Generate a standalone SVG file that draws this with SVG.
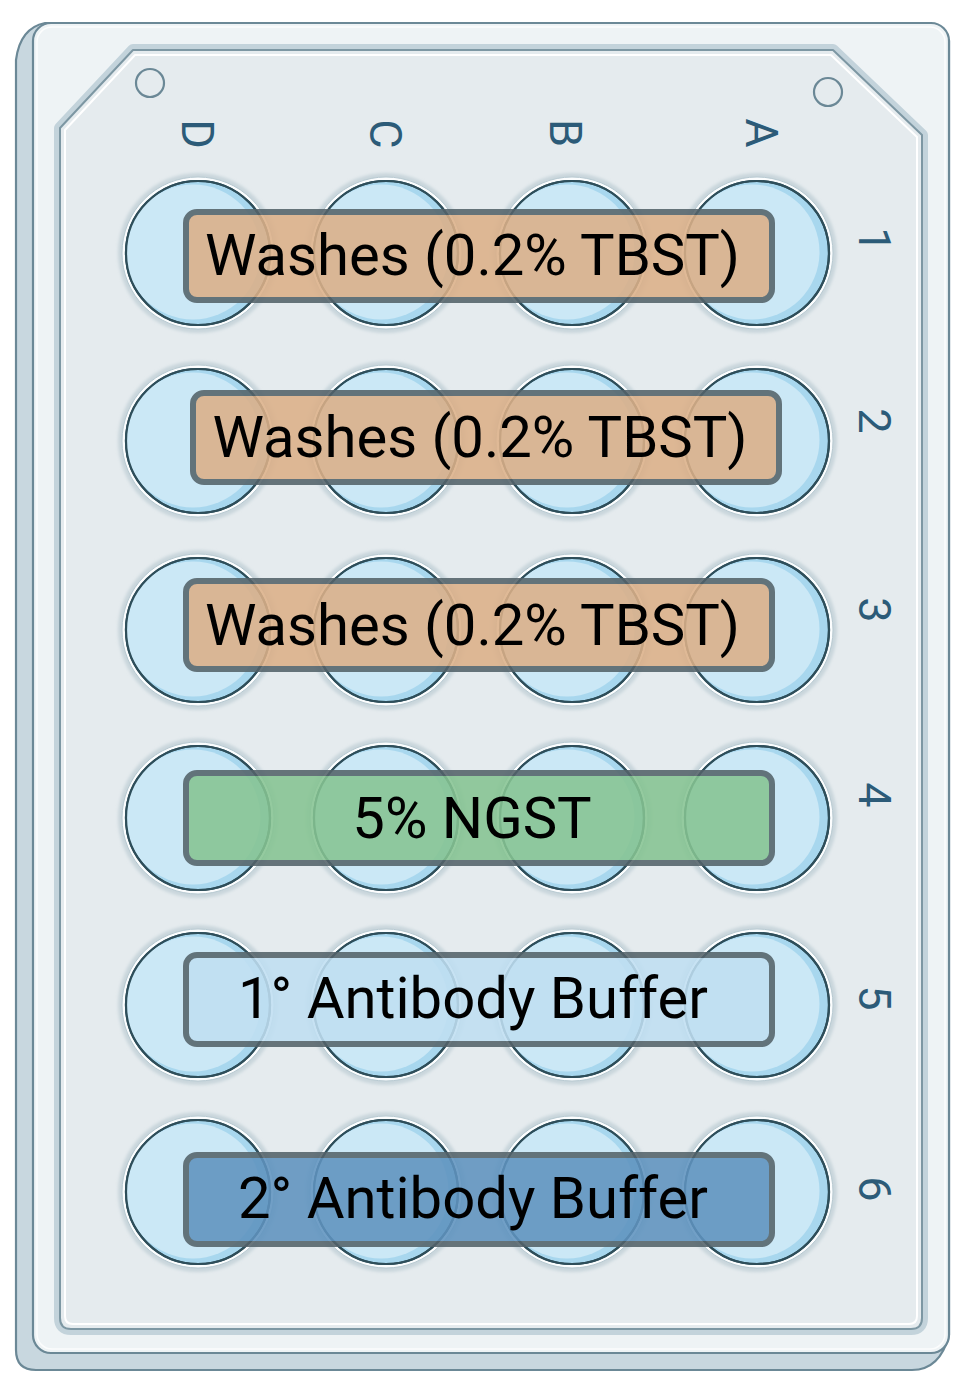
<svg xmlns="http://www.w3.org/2000/svg" xmlns:xlink="http://www.w3.org/1999/xlink" width="964" height="1379" viewBox="0 0 964 1379">
<style>
.edge{stroke:#6b8896;stroke-width:2.2}
.axis{font-family:Roboto,"Liberation Sans",sans-serif;font-size:45px;fill:#2c5b78;text-anchor:middle}
.lbl{font-family:Roboto,"Liberation Sans",sans-serif;font-size:58px;fill:#000;text-anchor:middle}
.box{stroke:#54636a;stroke-width:6;opacity:0.88}
.hole{fill:none;stroke:#6b8896;stroke-width:2.2}
</style>
<defs>
<filter id="soft" x="-20%" y="-20%" width="140%" height="140%"><feGaussianBlur stdDeviation="1.6"/></filter>
<g id="well">
<circle r="80" fill="#c9d6dc" filter="url(#soft)"/>
<circle r="76" fill="#fbfdfe" stroke="#b7c9d1" stroke-width="1"/>
<circle r="72" fill="#a8d7ee" stroke="#2e4e5a" stroke-width="2.2"/>
<circle cx="-5" cy="-1" r="67.5" fill="#cbe8f6"/>
<circle r="72" fill="none" stroke="#2e4e5a" stroke-width="2.2"/>
</g>
</defs>
<rect width="964" height="1379" fill="#ffffff"/>
<g id="plate">
<path d="M45,23 Q20,28 16,60 L16,1350 Q16,1370 36,1370 L912,1370 Q940,1370 949,1335 L949,40 Z" fill="#c8d7df" class="edge" stroke-linejoin="round"/>
<rect x="33" y="23" width="916" height="1330" rx="18" fill="#eef3f5" class="edge"/>
<rect x="37" y="27" width="908" height="1322" rx="15" fill="none" stroke="#ffffff" stroke-width="1.5" opacity="0.8"/>
<path d="M60,128 L133,50 L833,50 L922,135 L922,1318 Q922,1329 911,1329 L71,1329 Q60,1329 60,1318 Z" fill="none" stroke="#c3d3db" stroke-width="12" stroke-linejoin="round"/>
<path d="M60,128 L133,50 L833,50 L922,135 L922,1318 Q922,1329 911,1329 L71,1329 Q60,1329 60,1318 Z" fill="#e5ebee" stroke="#7d97a3" stroke-width="2" stroke-linejoin="round"/>
<path d="M65,130 L135,55 L831,55 L917,137 L917,1316 Q917,1324 909,1324 L73,1324 Q65,1324 65,1316 Z" fill="none" stroke="#ffffff" stroke-width="2" stroke-linejoin="round"/>
<circle class="hole" cx="150" cy="83" r="14"/>
<circle class="hole" cx="828" cy="92" r="14"/>
</g>
<g id="axis-labels">
<text class="axis" transform="translate(182,134) rotate(90)">D</text>
<text class="axis" transform="translate(370,134) rotate(90)">C</text>
<text class="axis" transform="translate(550,133) rotate(90)">B</text>
<text class="axis" transform="translate(746,133) rotate(90)">A</text>
<text class="axis" transform="translate(859,240) rotate(90)">1</text>
<text class="axis" transform="translate(859,421) rotate(90)">2</text>
<text class="axis" transform="translate(859,610) rotate(90)">3</text>
<text class="axis" transform="translate(859,795) rotate(90)">4</text>
<text class="axis" transform="translate(859,998) rotate(90)">5</text>
<text class="axis" transform="translate(859,1189) rotate(90)">6</text>
</g>
<g id="wells">
<g id="well-D1"><use xlink:href="#well" x="198" y="253"/></g>
<g id="well-C1"><use xlink:href="#well" x="386" y="253"/></g>
<g id="well-B1"><use xlink:href="#well" x="572" y="253"/></g>
<g id="well-A1"><use xlink:href="#well" x="757" y="253"/></g>
<g id="well-D2"><use xlink:href="#well" x="198" y="441"/></g>
<g id="well-C2"><use xlink:href="#well" x="386" y="441"/></g>
<g id="well-B2"><use xlink:href="#well" x="572" y="441"/></g>
<g id="well-A2"><use xlink:href="#well" x="757" y="441"/></g>
<g id="well-D3"><use xlink:href="#well" x="198" y="630"/></g>
<g id="well-C3"><use xlink:href="#well" x="386" y="630"/></g>
<g id="well-B3"><use xlink:href="#well" x="572" y="630"/></g>
<g id="well-A3"><use xlink:href="#well" x="757" y="630"/></g>
<g id="well-D4"><use xlink:href="#well" x="198" y="818"/></g>
<g id="well-C4"><use xlink:href="#well" x="386" y="818"/></g>
<g id="well-B4"><use xlink:href="#well" x="572" y="818"/></g>
<g id="well-A4"><use xlink:href="#well" x="757" y="818"/></g>
<g id="well-D5"><use xlink:href="#well" x="198" y="1005"/></g>
<g id="well-C5"><use xlink:href="#well" x="386" y="1005"/></g>
<g id="well-B5"><use xlink:href="#well" x="572" y="1005"/></g>
<g id="well-A5"><use xlink:href="#well" x="757" y="1005"/></g>
<g id="well-D6"><use xlink:href="#well" x="198" y="1192"/></g>
<g id="well-C6"><use xlink:href="#well" x="386" y="1192"/></g>
<g id="well-B6"><use xlink:href="#well" x="572" y="1192"/></g>
<g id="well-A6"><use xlink:href="#well" x="757" y="1192"/></g>
</g>
<g id="connectors"></g>
<g id="label-row1">
<rect class="box" x="186" y="212" width="586" height="88" rx="11" fill="#dcb088"/>
<text class="lbl" x="472.5" y="275">Washes (0.2% TBST)</text>
</g>
<g id="label-row2">
<rect class="box" x="193" y="393" width="586" height="89" rx="11" fill="#dcb088"/>
<text class="lbl" x="480" y="457">Washes (0.2% TBST)</text>
</g>
<g id="label-row3">
<rect class="box" x="186" y="581" width="586" height="88" rx="11" fill="#dcb088"/>
<text class="lbl" x="472.5" y="645">Washes (0.2% TBST)</text>
</g>
<g id="label-row4">
<rect class="box" x="186" y="773" width="586" height="90" rx="11" fill="#86c492"/>
<text class="lbl" x="472" y="838">5% NGST</text>
</g>
<g id="label-row5">
<rect class="box" x="186" y="955" width="586" height="89" rx="11" fill="#c0dff2"/>
<text class="lbl" x="473" y="1018">1° Antibody Buffer</text>
</g>
<g id="label-row6">
<rect class="box" x="186" y="1155" width="586" height="89" rx="11" fill="#5f93bf"/>
<text class="lbl" x="473" y="1218">2° Antibody Buffer</text>
</g>
</svg>
